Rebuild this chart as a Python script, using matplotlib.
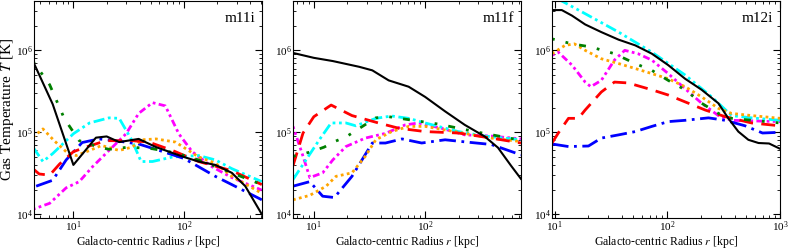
import numpy as np
import matplotlib
matplotlib.use('Agg')
import matplotlib.pyplot as plt

plt.rcParams['font.family'] = ['Liberation Serif', 'DejaVu Serif']
plt.rcParams['mathtext.fontset'] = 'stix'

# 面板名称
names = ['m11i', 'm11f', 'm12i']

# ---- m11i ----
m11i_black_r = [4.3, 6.5, 10, 16, 20, 26, 39, 56, 100, 136, 193, 272, 360, 508]
m11i_black_T = [7.4e5, 2.2e5, 4.0e4, 8.6e4, 8.9e4, 7.6e4, 8.3e4, 6.6e4, 5.0e4, 4.4e4, 4.0e4, 3.2e4, 2.2e4, 1.0e4]
m11i_green_r = [4.3, 6.1, 8.3, 11.3, 17, 21, 32, 52, 84, 136, 272, 508]
m11i_green_T = [7.4e5, 3.8e5, 1.46e5, 7.9e4, 6.6e4, 6.2e4, 6.6e4, 6.3e4, 5.6e4, 4.6e4, 3.2e4, 2.3e4]
m11i_orange_r = [4.3, 5.3, 6.7, 8.6, 10.6, 14, 18, 26, 34, 42, 56, 84, 136, 193, 272, 508]
m11i_orange_T = [8.7e4, 1.1e5, 7.9e4, 5.8e4, 5.2e4, 6.0e4, 6.9e4, 6.0e4, 6.6e4, 8.1e4, 8.3e4, 7.6e4, 5.0e4, 4.2e4, 2.9e4, 1.8e4]
m11i_red_r = [4.3, 4.9, 6.1, 7.5, 10, 13, 19.7, 34, 48, 79, 136, 272, 508]
m11i_red_T = [3.6e4, 3.1e4, 3.0e4, 4.1e4, 5.8e4, 6.6e4, 7.9e4, 7.9e4, 7.6e4, 6.0e4, 4.4e4, 3.4e4, 2.3e4]
m11i_blue_r = [4.6, 6.5, 8.6, 12, 17, 24, 39, 60, 100, 136, 193, 272, 508]
m11i_blue_T = [2.2e4, 2.6e4, 4.6e4, 7.5e4, 8.3e4, 7.9e4, 7.2e4, 6.0e4, 4.8e4, 3.8e4, 2.9e4, 2.3e4, 1.5e4]
m11i_cyan_r = [4.3, 5.3, 6.5, 10, 14, 21, 26, 34, 41, 52, 79, 136, 193, 272, 508]
m11i_cyan_T = [6.6e4, 4.4e4, 5.5e4, 9.6e4, 1.3e5, 1.5e5, 1.48e5, 7.9e4, 4.4e4, 4.4e4, 5.0e4, 5.2e4, 4.6e4, 3.6e4, 2.5e4]
m11i_mag_r = [4.3, 6.1, 8.6, 11.3, 14.9, 21, 30, 39, 52, 68, 90, 119, 180, 272, 508]
m11i_mag_T = [1.15e4, 1.36e4, 2.1e4, 2.5e4, 3.8e4, 6.0e4, 9.6e4, 1.7e5, 2.3e5, 2.1e5, 9.6e4, 5.8e4, 3.8e4, 2.8e4, 1.97e4]

# ---- m11f ----
m11f_black_r = [6.5, 10, 14.8, 25.5, 33.5, 47, 71, 100, 151, 227, 342, 450, 591, 725]
m11f_black_T = [9.3e5, 8.1e5, 7.4e5, 6.3e5, 5.7e5, 4.3e5, 3.6e5, 2.7e5, 1.8e5, 1.23e5, 8.9e4, 6.5e4, 3.9e4, 2.7e4]
m11f_green_r = [6.5, 7.4, 9.5, 12.4, 15.3, 19.5, 36, 47, 131, 300, 725]
m11f_green_T = [5.1e4, 5.3e4, 5.8e4, 6.6e4, 7.7e4, 8.8e4, 1.5e5, 1.55e5, 1.26e5, 1.0e5, 8.0e4]
m11f_orange_r = [6.5, 9.2, 12.9, 15.8, 22, 29, 36, 50, 71, 100, 198, 392, 725]
m11f_orange_T = [1.5e4, 1.7e4, 2.2e4, 2.9e4, 3.2e4, 5.1e4, 8.1e4, 1.02e5, 1.18e5, 1.18e5, 1.0e5, 8.5e4, 7.7e4]
m11f_red_r = [6.5, 8, 10, 14.3, 22, 38, 58, 100, 198, 392, 725]
m11f_red_T = [3.9e4, 9.8e4, 1.55e5, 2.15e5, 1.6e5, 1.3e5, 1.12e5, 1.02e5, 9.8e4, 8.5e4, 7.4e4]
m11f_blue_r = [6.5, 9.2, 12, 15.3, 22, 33.5, 44, 62, 93, 151, 260, 392, 725]
m11f_blue_T = [2.2e4, 2.5e4, 1.66e4, 1.6e4, 2.9e4, 7.4e4, 7.4e4, 8.3e4, 7.4e4, 8.1e4, 7.5e4, 7.1e4, 5.3e4]
m11f_cyan_r = [6.5, 8.5, 11.2, 14.3, 19.4, 23.8, 36, 50, 71, 100, 198, 342, 725]
m11f_cyan_T = [2.65e4, 4.6e4, 8.1e4, 1.3e5, 1.3e5, 1.2e5, 1.48e5, 1.58e5, 1.48e5, 1.3e5, 1.02e5, 9.0e4, 8.1e4]
m11f_mag_r = [6.5, 8, 9.2, 12, 14.8, 19.4, 29, 44, 66, 87, 140, 227, 392, 725]
m11f_mag_T = [1.18e5, 5.1e4, 2.8e4, 3.2e4, 4.6e4, 6.7e4, 8.5e4, 9.7e4, 1.23e5, 1.3e5, 1.12e5, 9.3e4, 9.0e4, 8.3e4]

# ---- m12i ----
m12i_black_r = [9.5, 11.6, 14.3, 18.7, 26, 37, 52, 73, 102, 144, 202, 284, 348, 427, 524, 645, 800, 1000]
m12i_black_T = [3.1e6, 3.1e6, 2.65e6, 2.07e6, 1.67e6, 1.35e6, 1.15e6, 9.1e5, 6.6e5, 4.5e5, 3.3e5, 2.26e5, 1.48e5, 1.02e5, 8.1e4, 7.4e4, 7.3e4, 6.3e4]
m12i_green_r = [9.5, 14.3, 21, 34, 52, 73, 102, 144, 202, 284, 372, 1000]
m12i_green_T = [1.38e6, 1.2e6, 1.1e6, 9.1e5, 6.9e5, 5.7e5, 4.3e5, 3.3e5, 2.26e5, 1.7e5, 1.48e5, 1.3e5]
m12i_orange_r = [9.5, 12.4, 15, 18.7, 26, 37, 52, 73, 102, 144, 202, 284, 372, 560, 1000]
m12i_orange_T = [9.1e5, 1.15e6, 1.2e6, 1.0e6, 7.9e5, 6.9e5, 6.0e5, 5.2e5, 4.5e5, 3.6e5, 2.7e5, 1.96e5, 1.7e5, 1.6e5, 1.48e5]
m12i_red_r = [9.5, 10.8, 13.3, 16.3, 18.7, 26, 34, 45, 73, 102, 144, 217, 327, 560, 1000]
m12i_red_T = [7.4e4, 9.8e4, 1.48e5, 1.48e5, 1.87e5, 3.1e5, 4.1e5, 4.0e5, 3.3e5, 2.85e5, 2.35e5, 1.87e5, 1.55e5, 1.3e5, 1.2e5]
m12i_blue_r = [9.5, 13.3, 20, 26, 37, 52, 73, 102, 144, 232, 327, 490, 700, 1000]
m12i_blue_T = [7.2e4, 6.7e4, 6.8e4, 8.5e4, 9.3e4, 1.02e5, 1.18e5, 1.35e5, 1.4e5, 1.5e5, 1.4e5, 1.2e5, 9.8e4, 1.0e5]
m12i_cyan_r = [9.5, 11.6, 18.7, 37, 73, 144, 248, 372, 560, 1000]
m12i_cyan_T = [4.6e6, 4.0e6, 2.8e6, 1.67e6, 9.5e5, 5.0e5, 2.7e5, 1.6e5, 1.5e5, 1.4e5]
m12i_mag_r = [9.5, 10.8, 14.3, 18.7, 21, 26, 34, 42, 55, 73, 102, 144, 202, 284, 372, 1000]
m12i_mag_T = [8.7e5, 9.5e5, 6.6e5, 4.1e5, 3.6e5, 4.3e5, 7.6e5, 1.0e6, 9.1e5, 7.6e5, 5.2e5, 3.4e5, 2.26e5, 1.6e5, 1.4e5, 1.35e5]

xlims = [(4.4, 510), (6.5, 725), (9.5, 1000)]

# 线型
styles = {
    'black': dict(color='black', ls='-', lw=1.5),
    'green': dict(color='green', ls=(0, (1, 4, 1, 4, 2.5, 4)), lw=2),
    'orange': dict(color='orange', ls=(0, (1, 1.2)), lw=2),
    'red': dict(color='red', ls=(0, (5, 3)), lw=2),
    'blue': dict(color='blue', ls=(0, (6, 2, 1, 2)), lw=2),
    'cyan': dict(color='cyan', ls=(0, (4, 1.3, 1, 1.3, 1, 1.3)), lw=2),
    'mag': dict(color='magenta', ls=(0, (1, 1.2, 1, 1.2, 2.5, 1.2)), lw=2),
}

data = [
    {'black': (m11i_black_r, m11i_black_T), 'green': (m11i_green_r, m11i_green_T),
     'orange': (m11i_orange_r, m11i_orange_T), 'red': (m11i_red_r, m11i_red_T),
     'blue': (m11i_blue_r, m11i_blue_T), 'cyan': (m11i_cyan_r, m11i_cyan_T),
     'mag': (m11i_mag_r, m11i_mag_T)},
    {'black': (m11f_black_r, m11f_black_T), 'green': (m11f_green_r, m11f_green_T),
     'orange': (m11f_orange_r, m11f_orange_T), 'red': (m11f_red_r, m11f_red_T),
     'blue': (m11f_blue_r, m11f_blue_T), 'cyan': (m11f_cyan_r, m11f_cyan_T),
     'mag': (m11f_mag_r, m11f_mag_T)},
    {'black': (m12i_black_r, m12i_black_T), 'green': (m12i_green_r, m12i_green_T),
     'orange': (m12i_orange_r, m12i_orange_T), 'red': (m12i_red_r, m12i_red_T),
     'blue': (m12i_blue_r, m12i_blue_T), 'cyan': (m12i_cyan_r, m12i_cyan_T),
     'mag': (m12i_mag_r, m12i_mag_T)},
]

fig = plt.figure(figsize=(7.89, 2.49), dpi=100)
lefts = [34 / 789, 293 / 789, 552 / 789]
order = ['mag', 'cyan', 'blue', 'orange', 'red', 'green', 'black']

for i in range(3):
    ax = fig.add_axes([lefts[i], 31 / 249, 228 / 789, 217 / 249])
    for key in order:
        r, T = data[i][key]
        ax.plot(r, T, **styles[key])
    ax.set_xscale('log')
    ax.set_yscale('log')
    ax.set_xlim(*xlims[i])
    ax.set_ylim(9e3, 4e6)
    ax.tick_params(which='both', direction='in', top=True, right=True, labelsize=8, pad=1)
    ax.tick_params(which='major', length=5)
    ax.tick_params(which='minor', length=2.5)
    ax.set_xlabel('Galacto-centric Radius $r$ [kpc]', fontsize=8.5)
    ax.xaxis.set_label_coords(0.5, -15.5 / 217)
    if i == 0:
        ax.set_ylabel('Gas Temperature $T$ [K]', fontsize=11)
        ax.yaxis.set_label_coords(-18 / 228, 0.5)
    ax.text(0.97, 0.95, names[i], transform=ax.transAxes, ha='right', va='top', fontsize=11)

plt.savefig('out.png', dpi=100)
